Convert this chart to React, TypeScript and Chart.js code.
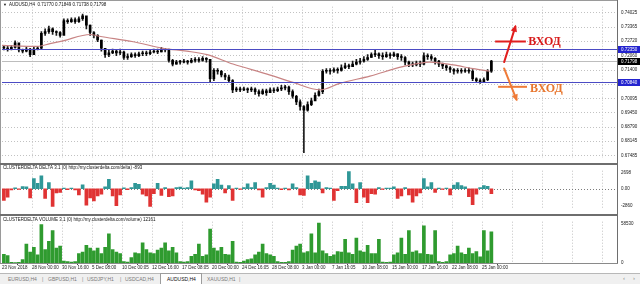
import React, { useEffect, useRef } from 'react';
import { Chart, registerables } from 'chart.js';

Chart.register(...registerables);

// ---------------- data ----------------
const totalSlots = 164; // each slot = two H4 bars
const timeTickSlots = [0, 8, 16, 24, 32, 40, 48, 56, 64, 72, 80, 88, 96, 104, 112, 120, 128];
const timeLabels = [
  '23 Nov 2018', '28 Nov 00:00', '30 Nov 16:00', '5 Dec 08:00', '10 Dec 00:05', '12 Dec 16:00',
  '17 Dec 08:05', '20 Dec 00:00', '24 Dec 16:05', '28 Dec 08:00', '3 Jan 00:00', '7 Jan 16:05',
  '10 Jan 08:00', '15 Jan 00:00', '17 Jan 16:00', '22 Jan 08:00', '25 Jan 00:00',
];
const gridSlots = [8, 16, 24, 32, 40, 48, 56, 64, 72, 80, 88, 96, 104, 112, 120, 128, 136, 144, 152, 160];
const priceTicks = [0.67485, 0.68145, 0.6879, 0.6945, 0.70095, 0.7074, 0.714, 0.7206, 0.7272, 0.73365, 0.74025];

const firstOpen = 0.7245;
const closes = [
  0.7238, 0.7234, 0.7242, 0.7263, 0.7230, 0.7225, 0.7234, 0.7209, 0.7234, 0.7238,
  0.7306, 0.7314, 0.7327, 0.7314, 0.7310, 0.7297, 0.7365, 0.7360, 0.7369, 0.7360,
  0.7373, 0.7386, 0.7344, 0.7310, 0.7297, 0.7276, 0.7238, 0.7209, 0.7217, 0.7225,
  0.7217, 0.7221, 0.7196, 0.7200, 0.7209, 0.7204, 0.7213, 0.7217, 0.7213, 0.7221,
  0.7225, 0.7221, 0.7234, 0.7230, 0.7183, 0.7166, 0.7175, 0.7175, 0.7179, 0.7175,
  0.7183, 0.7187, 0.7183, 0.7192, 0.7187, 0.7099, 0.7137, 0.7133, 0.7116, 0.7107,
  0.7090, 0.7048, 0.7052, 0.7048, 0.7052, 0.7048, 0.7052, 0.7040, 0.7031, 0.7044,
  0.7035, 0.7048, 0.7044, 0.7052, 0.7057, 0.7061, 0.7040, 0.7019, 0.6993, 0.6972,
  0.6955, 0.6981, 0.6998, 0.7023, 0.7040, 0.7133, 0.7137, 0.7133, 0.7141, 0.7137,
  0.7149, 0.7158, 0.7154, 0.7166, 0.7175, 0.7179, 0.7187, 0.7196, 0.7209, 0.7213,
  0.7204, 0.7200, 0.7209, 0.7204, 0.7213, 0.7200, 0.7196, 0.7175, 0.7166, 0.7162,
  0.7171, 0.7166, 0.7204, 0.7200, 0.7192, 0.7179, 0.7166, 0.7158, 0.7149, 0.7141,
  0.7133, 0.7137, 0.7133, 0.7137, 0.7133, 0.7099, 0.7090, 0.7086, 0.7095, 0.7133, 0.7180,
];
const highs = [
  0.7251, 0.7247, 0.7251, 0.7272, 0.7242, 0.7234, 0.7242, 0.7238, 0.7242, 0.7247,
  0.7314, 0.7327, 0.7339, 0.7331, 0.7318, 0.7314, 0.7373, 0.7373, 0.7377, 0.7377,
  0.7382, 0.7394, 0.7373, 0.7344, 0.7314, 0.7301, 0.7276, 0.7238, 0.7230, 0.7234,
  0.7230, 0.7234, 0.7225, 0.7213, 0.7217, 0.7217, 0.7221, 0.7225, 0.7225, 0.7230,
  0.7234, 0.7234, 0.7242, 0.7238, 0.7234, 0.7187, 0.7183, 0.7183, 0.7187, 0.7183,
  0.7192, 0.7196, 0.7196, 0.7200, 0.7196, 0.7187, 0.7145, 0.7145, 0.7137, 0.7124,
  0.7116, 0.7095, 0.7061, 0.7061, 0.7061, 0.7057, 0.7061, 0.7057, 0.7048, 0.7052,
  0.7052, 0.7057, 0.7057, 0.7061, 0.7069, 0.7069, 0.7065, 0.7048, 0.7023, 0.7002,
  0.6976, 0.6993, 0.7010, 0.7035, 0.7052, 0.7141, 0.7145, 0.7145, 0.7149, 0.7149,
  0.7162, 0.7171, 0.7166, 0.7179, 0.7187, 0.7192, 0.7200, 0.7209, 0.7217, 0.7230,
  0.7217, 0.7217, 0.7221, 0.7217, 0.7221, 0.7213, 0.7209, 0.7200, 0.7179, 0.7175,
  0.7179, 0.7179, 0.7217, 0.7213, 0.7209, 0.7196, 0.7183, 0.7171, 0.7162, 0.7154,
  0.7145, 0.7145, 0.7145, 0.7145, 0.7149, 0.7141, 0.7103, 0.7099, 0.7103, 0.7141, 0.7183,
];
const lows = [
  0.7230, 0.7225, 0.7230, 0.7238, 0.7221, 0.7217, 0.7221, 0.7200, 0.7217, 0.7230,
  0.7234, 0.7297, 0.7306, 0.7301, 0.7297, 0.7289, 0.7352, 0.7352, 0.7356, 0.7352,
  0.7356, 0.7365, 0.7327, 0.7297, 0.7285, 0.7268, 0.7225, 0.7196, 0.7200, 0.7213,
  0.7204, 0.7209, 0.7187, 0.7187, 0.7196, 0.7196, 0.7200, 0.7204, 0.7204, 0.7209,
  0.7217, 0.7213, 0.7221, 0.7221, 0.7175, 0.7158, 0.7166, 0.7166, 0.7171, 0.7166,
  0.7171, 0.7175, 0.7175, 0.7179, 0.7175, 0.7086, 0.7090, 0.7120, 0.7107, 0.7095,
  0.7082, 0.7035, 0.7040, 0.7040, 0.7044, 0.7035, 0.7040, 0.7027, 0.7019, 0.7027,
  0.7023, 0.7035, 0.7035, 0.7040, 0.7044, 0.7048, 0.7027, 0.7010, 0.6981, 0.6955,
  0.6761, 0.6951, 0.6976, 0.7002, 0.7019, 0.7031, 0.7124, 0.7120, 0.7128, 0.7124,
  0.7133, 0.7145, 0.7145, 0.7154, 0.7162, 0.7166, 0.7175, 0.7183, 0.7196, 0.7200,
  0.7192, 0.7187, 0.7196, 0.7192, 0.7200, 0.7187, 0.7183, 0.7162, 0.7154, 0.7154,
  0.7158, 0.7154, 0.7162, 0.7187, 0.7183, 0.7166, 0.7154, 0.7145, 0.7137, 0.7128,
  0.7120, 0.7124, 0.7124, 0.7128, 0.7124, 0.7090, 0.7082, 0.7078, 0.7082, 0.7090, 0.7128,
];
const maSlots = [0, 9.3, 12.8, 16.3, 23.5, 26, 35, 43, 49.3, 54.7, 61.6, 70.7, 77.6, 84.8, 90.1, 98.1, 106.9, 114.1, 120.3, 125.6, 130.1];
const maValues = [0.7251, 0.7247, 0.7259, 0.7272, 0.7301, 0.7293, 0.7268, 0.7238, 0.7225, 0.7209, 0.7166, 0.7120, 0.7082, 0.7048, 0.7078, 0.7111, 0.7154, 0.7175, 0.7162, 0.7145, 0.7133];

const deltaValues = [
  -1900, -1400, -200, 150, -100, 350, 300, -1500, 1650, 900,
  2100, -1600, 1000, -2900, -700, -600, 100, -150, 120, -200,
  -1000, 650, -2700, -1500, -2000, -1200, -900, 300, 1550, -1200,
  -2800, -1000, 150, -150, 200, 900, 700, -900, -1200, -2900,
  -800, 900, -1100, 200, -1300, -1200, 200, 250, 100, 200,
  1300, -200, -300, -900, -2200, -1400, 800, 1550, 600, -700,
  500, -1900, 100, -100, 200, 800, 200, 1000, -200, -1400,
  200, 900, 600, 100, -150, 100, -200, 800, 200, -1000,
  -1100, 2100, 900, 1300, 1100, -700, 200, 100, -1900, -300,
  400, 400, 2800, 800, -2300, 1000, -1400, -2300, -800, -900,
  200, -100, 100, 100, 300, -1600, -1200, 200, -1000, -2200,
  -1200, -700, 1650, 300, 1000, -600, 100, -100, 100, -1000,
  600, 1000, 500, 300, -1300, -2600, -900, 200, 500, 400, -800,
];
const deltaTicks = [-2860, 0, 2698];

const volumeValues = [
  13000, 11000, 1000, 800, 1000, 5000, 28000, 16000, 23000, 12000,
  57000, 20000, 32000, 48000, 22000, 25000, 3000, 2000, 1500, 2000,
  14000, 16000, 26000, 22000, 18000, 22000, 14000, 23000, 43000, 20000,
  16000, 14000, 2000, 1500, 8000, 15000, 14000, 30000, 20000, 15000,
  14000, 19000, 22000, 30000, 18000, 23000, 15000, 2000, 1500, 2000,
  10000, 13000, 28000, 10000, 12000, 50000, 22000, 18000, 23000, 13000,
  12000, 32000, 1500, 1000, 3000, 5000, 6000, 12000, 16000, 28000,
  14000, 12000, 10000, 2000, 1000, 1000, 2000, 19000, 25000, 28000,
  15000, 17000, 43000, 15000, 59000, 18000, 14000, 10000, 12000, 17000,
  16000, 35000, 15000, 13000, 37000, 18000, 16000, 26000, 14000, 14000,
  35000, 1500, 1000, 1500, 12000, 15000, 37000, 13000, 48000, 16000,
  18000, 14000, 55000, 13000, 12000, 48000, 2000, 1000, 2000, 12000,
  14000, 25000, 15000, 13000, 22000, 14000, 17000, 9000, 48000, 18000, 46000,
];
const volumeTicks = [0, 58530];

const levelPrices = [0.7235, 0.7084];
const lastPrice = 0.71798;
const symbolTitle = 'AUDUSD,H4';
const headerQuote = ['0.71770', '0.71849', '0.71738', '0.71798'];
const deltaTitle = 'CLUSTERDELTA DELTA 3.1 (0) http://my.clusterdelta.com/delta) -893';
const volumeTitle = 'CLUSTERDELTA VOLUME 3.1 (0) http://my.clusterdelta.com/volume) 12161';
const entryText = 'ВХОД';
const tabs = ['EURUSD,H4', 'GBPUSD,H1', 'USDJPY,H1', 'USDCAD,H4', 'AUDUSD,H4', 'XAUUSD,H1'];
const activeTab = 'AUDUSD,H4';

// annotation anchors in data coordinates (slot, price)
const entrySignals = [
  { color: '#e11e1e', textColor: '#d81b1b', level: 0.7269, from: 131.5, to: 139.7, a0: [133.9, 0.7175], a1: [136.9, 0.7337], textSlot: 140.3, textPrice: 0.7270 },
  { color: '#ef7b38', textColor: '#e8762e', level: 0.7062, from: 132.3, to: 140.0, a0: [133.9, 0.7146], a1: [137.2, 0.7004], textSlot: 140.8, textPrice: 0.7053 },
];

// ---------------- styling ----------------
const FONT = '"Liberation Sans", Arial, sans-serif';
const SMALL = 4.5;

function gridPlugin(hValues: number[], hColor: string) {
  return {
    id: 'mtgrid',
    beforeDatasetsDraw(chart: any) {
      const { ctx, chartArea: a, scales } = chart;
      ctx.save();
      ctx.lineWidth = 1;
      ctx.setLineDash([1, 2]);
      ctx.strokeStyle = '#c2c2c2';
      ctx.beginPath();
      for (const s of gridSlots) {
        const px = Math.round(scales.x.getPixelForValue(s)) + 0.5;
        ctx.moveTo(px, a.top);
        ctx.lineTo(px, a.bottom);
      }
      ctx.stroke();
      ctx.strokeStyle = hColor;
      ctx.beginPath();
      for (const v of hValues) {
        const py = Math.round(scales.y.getPixelForValue(v)) + 0.5;
        ctx.moveTo(a.left, py);
        ctx.lineTo(a.right, py);
      }
      ctx.stroke();
      ctx.restore();
    },
  };
}

function titlePlugin(text: string, y: number) {
  return {
    id: 'mttitle',
    afterDraw(chart: any) {
      const ctx = chart.ctx;
      ctx.save();
      ctx.font = `${SMALL}px ${FONT}`;
      ctx.fillStyle = '#111';
      ctx.textBaseline = 'middle';
      ctx.fillText(text, 3, y);
      ctx.restore();
    },
  };
}

function drawArrow(ctx: CanvasRenderingContext2D, x1: number, y1: number, x2: number, y2: number, color: string) {
  ctx.strokeStyle = color;
  ctx.lineWidth = 2;
  ctx.lineCap = 'round';
  ctx.beginPath();
  ctx.moveTo(x1, y1);
  ctx.lineTo(x2, y2);
  ctx.stroke();
  const ang = Math.atan2(y2 - y1, x2 - x1);
  const L = 7;
  const W = 3.2;
  const tx = x2 + Math.cos(ang) * 2;
  const ty = y2 + Math.sin(ang) * 2;
  ctx.fillStyle = color;
  ctx.beginPath();
  ctx.moveTo(tx, ty);
  ctx.lineTo(tx - L * Math.cos(ang) + W * Math.sin(ang), ty - L * Math.sin(ang) - W * Math.cos(ang));
  ctx.lineTo(tx - L * Math.cos(ang) - W * Math.sin(ang), ty - L * Math.sin(ang) + W * Math.cos(ang));
  ctx.closePath();
  ctx.fill();
}

const mainOverlay = {
  id: 'mainOverlay',
  beforeDatasetsDraw(chart: any) {
    const { ctx, chartArea: a, scales } = chart;
    const py = Math.round(scales.y.getPixelForValue(lastPrice)) + 0.5;
    ctx.save();
    ctx.strokeStyle = '#bdbdbd';
    ctx.lineWidth = 1;
    ctx.beginPath();
    ctx.moveTo(a.left, py);
    ctx.lineTo(a.right, py);
    ctx.stroke();
    ctx.restore();
  },
  afterDatasetsDraw(chart: any) {
    const { ctx, chartArea: a, scales } = chart;
    ctx.save();
    ctx.strokeStyle = '#4b4bc4';
    ctx.lineWidth = 1;
    for (const v of levelPrices) {
      const py = Math.round(scales.y.getPixelForValue(v)) + 0.5;
      ctx.beginPath();
      ctx.moveTo(a.left, py);
      ctx.lineTo(a.right, py);
      ctx.stroke();
    }
    // entry annotations
    for (const s of entrySignals) {
      const ly = scales.y.getPixelForValue(s.level);
      ctx.strokeStyle = s.color;
      ctx.lineWidth = 2;
      ctx.lineCap = 'butt';
      ctx.beginPath();
      ctx.moveTo(scales.x.getPixelForValue(s.from), ly);
      ctx.lineTo(scales.x.getPixelForValue(s.to), ly);
      ctx.stroke();
      drawArrow(
        ctx,
        scales.x.getPixelForValue(s.a0[0]), scales.y.getPixelForValue(s.a0[1]),
        scales.x.getPixelForValue(s.a1[0]), scales.y.getPixelForValue(s.a1[1]),
        s.color,
      );
      ctx.fillStyle = s.textColor;
      ctx.font = `bold 12px "Liberation Serif", "DejaVu Serif", serif`;
      ctx.textBaseline = 'middle';
      ctx.fillText(entryText, scales.x.getPixelForValue(s.textSlot), scales.y.getPixelForValue(s.textPrice) + 0.5);
    }
    ctx.restore();
  },
  afterDraw(chart: any) {
    const { ctx, chartArea: a, scales } = chart;
    ctx.save();
    ctx.font = `${SMALL}px ${FONT}`;
    ctx.textBaseline = 'middle';
    // price tags on the axis
    const tags = [
      { v: levelPrices[0], bg: '#2323cf' },
      { v: levelPrices[1], bg: '#2323cf' },
      { v: lastPrice, bg: '#000000' },
    ];
    for (const t of tags) {
      const py = Math.round(scales.y.getPixelForValue(t.v));
      ctx.fillStyle = t.bg;
      ctx.fillRect(a.right + 1, py - 3, 22, 7);
      ctx.fillStyle = '#ffffff';
      ctx.fillText(t.v.toFixed(5), a.right + 4, py + 0.5);
    }
    // header
    ctx.fillStyle = '#111';
    ctx.font = `4px ${FONT}`;
    ctx.fillText('▼', 3, 4.5);
    ctx.font = `${SMALL}px ${FONT}`;
    ctx.fillText(symbolTitle + '  ' + headerQuote.join(' '), 9, 4.5);
    ctx.restore();
  },
};

function rightAxis(min: number, max: number, ticks: number[], label: (v: number) => string) {
  return {
    position: 'right' as const,
    min,
    max,
    afterFit: (s: any) => { s.width = 23; },
    afterBuildTicks: (s: any) => { s.ticks = ticks.map((v) => ({ value: v })); },
    grid: { display: false, drawTicks: false },
    border: { display: false },
    ticks: {
      autoSkip: false,
      padding: 4,
      color: '#1a1a1a',
      font: { size: SMALL, family: FONT },
      callback: (v: any) => label(Number(v)),
    },
  };
}

const hiddenX = {
  type: 'linear' as const,
  min: 0,
  max: totalSlots,
  offset: false,
  display: false,
};

export default function App() {
  const mainRef = useRef<HTMLCanvasElement>(null);
  const deltaRef = useRef<HTMLCanvasElement>(null);
  const volRef = useRef<HTMLCanvasElement>(null);

  useEffect(() => {
    const charts: Chart[] = [];
    const slotX = (i: number) => i + 0.5;
    const opens = closes.map((c, i) => (i === 0 ? firstOpen : closes[i - 1]));
    const wickData = closes.map((_, i) => ({ x: slotX(i), y: [lows[i], highs[i]] }));
    const bodyData = closes.map((c, i) => ({ x: slotX(i), y: [opens[i], c] }));
    const maData = maSlots.map((s, i) => ({ x: s, y: maValues[i] }));
    const deltaData = deltaValues.map((v, i) => ({ x: slotX(i), y: v }));
    const volData = volumeValues.map((v, i) => ({ x: slotX(i), y: v }));

    const common = {
      animation: false as const,
      responsive: false,
      maintainAspectRatio: false,
      events: [] as any[],
      plugins: { legend: { display: false }, tooltip: { enabled: false } },
    };

    if (mainRef.current) {
      charts.push(new Chart(mainRef.current, {
        type: 'bar',
        data: {
          datasets: [
            { type: 'line', data: maData as any, borderColor: '#c88484', borderWidth: 1.2, pointRadius: 0, cubicInterpolationMode: 'monotone', order: 0 } as any,
            { type: 'bar', data: wickData as any, backgroundColor: '#1a1a1a', barThickness: 1, grouped: false, order: 2 } as any,
            { type: 'bar', data: bodyData as any, backgroundColor: '#000', barThickness: 2, minBarLength: 1, grouped: false, order: 1 } as any,
          ],
        },
        options: {
          ...common,
          layout: { padding: { left: 2, top: 0, right: 0, bottom: 1 }, autoPadding: false },
          scales: {
            x: hiddenX,
            y: rightAxis(0.6740, 0.7428, priceTicks, (v) => v.toFixed(5)),
          },
        } as any,
        plugins: [gridPlugin(priceTicks, '#c2c2c2'), mainOverlay],
      }));
    }

    if (deltaRef.current) {
      charts.push(new Chart(deltaRef.current, {
        type: 'bar',
        data: {
          datasets: [
            {
              data: deltaData as any,
              backgroundColor: (ctx: any) => ((ctx.raw && ctx.raw.y >= 0) ? '#2f9797' : '#e03333'),
              barThickness: 3,
              grouped: false,
            } as any,
          ],
        },
        options: {
          ...common,
          layout: { padding: { left: 2, top: 1, right: 0, bottom: 2 }, autoPadding: false },
          scales: {
            x: hiddenX,
            y: rightAxis(-3212, 2955, deltaTicks, (v) => (v === 0 ? '0.00' : String(v))),
          },
        } as any,
        plugins: [gridPlugin([0], '#7c7c7c'), titlePlugin(deltaTitle, 3.8)],
      }));
    }

    if (volRef.current) {
      charts.push(new Chart(volRef.current, {
        type: 'bar',
        data: {
          datasets: [
            { data: volData as any, backgroundColor: '#2f9b2f', barThickness: 3, grouped: false } as any,
          ],
        },
        options: {
          ...common,
          layout: { padding: { left: 2, top: 1, right: 0, bottom: 0 }, autoPadding: false },
          scales: {
            x: {
              type: 'linear',
              min: 0,
              max: totalSlots,
              offset: false,
              position: 'bottom',
              afterFit: (s: any) => { s.height = 9; },
              afterBuildTicks: (s: any) => { s.ticks = timeTickSlots.map((v) => ({ value: v })); },
              grid: { display: true, drawOnChartArea: false, drawTicks: true, tickLength: 2, color: '#444', lineWidth: 1 },
              border: { display: false },
              ticks: {
                autoSkip: false,
                maxRotation: 0,
                minRotation: 0,
                align: 'start',
                padding: 0,
                color: '#1a1a1a',
                font: { size: SMALL, family: FONT },
                callback: (_v: any, i: number) => timeLabels[i],
              },
            },
            y: rightAxis(0, 61100, volumeTicks, (v) => String(v)),
          },
        } as any,
        plugins: [gridPlugin([], '#c2c2c2'), titlePlugin(volumeTitle, 4.5)],
      }));
    }

    return () => { charts.forEach((c) => c.destroy()); };
  }, []);

  const line = (l: number, t: number, w: number, h: number, c: string) => (
    <div style={{ position: 'absolute', left: l, top: t, width: w, height: h, background: c }} />
  );

  const tabX = [8, 48, 87, 125, 167, 207];
  const sepX = [42, 82, 120, 239];

  return (
    <div style={{ position: 'absolute', left: 0, top: 0, width: 640, height: 284, background: '#fff', overflow: 'hidden' }}>
      <canvas ref={mainRef} width={640} height={164} style={{ position: 'absolute', left: 0, top: 0, width: 640, height: 164 }} />
      <canvas ref={deltaRef} width={640} height={51} style={{ position: 'absolute', left: 0, top: 164, width: 640, height: 51 }} />
      <canvas ref={volRef} width={640} height={57} style={{ position: 'absolute', left: 0, top: 215, width: 640, height: 57 }} />
      {line(0, 0, 618, 1, '#9a9a9a')}
      {line(0, 0, 1, 264, '#9a9a9a')}
      {line(617, 0, 1, 264, '#6e6e6e')}
      {line(0, 163, 618, 2, '#6e6e6e')}
      {line(0, 214, 618, 2, '#6e6e6e')}
      {line(0, 263, 618, 1, '#8a8a8a')}
      <div style={{ position: 'absolute', left: 0, top: 273, width: 640, height: 11, background: '#f0f0f0', borderTop: '1px solid #b8b8b8', boxSizing: 'border-box' }}>
        <div style={{ position: 'absolute', left: 160, top: -1, width: 42, height: 11, background: '#fff', border: '1px solid #9c9c9c', borderBottom: 'none', boxSizing: 'border-box' }} />
        {tabs.map((t, i) => (
          <span key={t} style={{ position: 'absolute', left: tabX[i], top: 2, fontFamily: FONT, fontSize: 5, lineHeight: '6px', color: t === activeTab ? '#111' : '#7a7a7a', whiteSpace: 'nowrap' }}>{t}</span>
        ))}
        {sepX.map((x) => (
          <span key={x} style={{ position: 'absolute', left: x, top: 2, fontFamily: FONT, fontSize: 5, lineHeight: '6px', color: '#8a8a8a' }}>|</span>
        ))}
        <span style={{ position: 'absolute', left: 623, top: 1, fontFamily: FONT, fontSize: 6, lineHeight: '7px', color: '#8a8a8a' }}>‹</span>
        <span style={{ position: 'absolute', left: 633, top: 1, fontFamily: FONT, fontSize: 6, lineHeight: '7px', color: '#8a8a8a' }}>›</span>
      </div>
    </div>
  );
}
